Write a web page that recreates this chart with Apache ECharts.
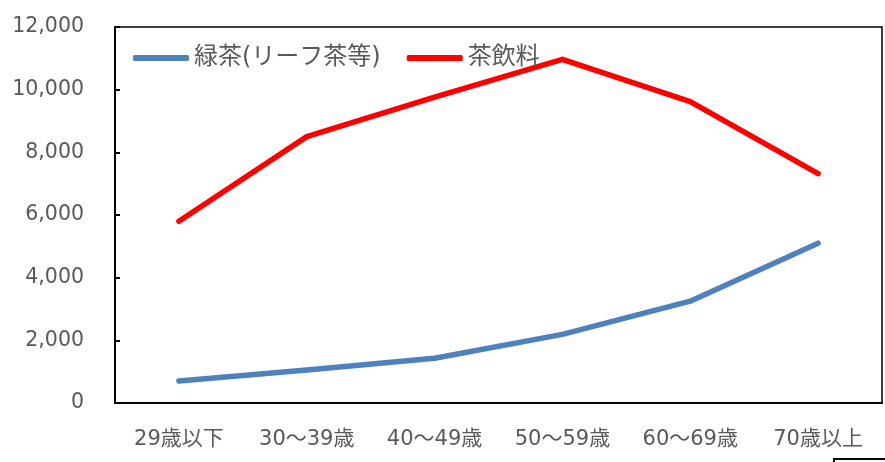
<!DOCTYPE html>
<html>
<head>
<meta charset="utf-8">
<script src="https://cdn.jsdelivr.net/npm/echarts@6/dist/echarts.min.js"></script>
<style>html,body{margin:0;padding:0;background:#fff;}#c{width:885px;height:462px;}</style>
</head>
<body>
<div id="c"></div>
<script>
const categories = ['29歳以下', '30～39歳', '40～49歳', '50～59歳', '60～69歳', '70歳以上'];
const greenTea = [700, 1050, 1430, 2190, 3250, 5100];
const teaDrink = [5800, 8500, 9760, 10970, 9620, 7320];
const seriesNames = ['緑茶(リーフ茶等)', '茶飲料'];

const font = '"DejaVu Sans", "Noto Sans CJK JP", sans-serif';
const chart = echarts.init(document.getElementById('c'));
chart.setOption({
  animation: false,
  backgroundColor: '#fff',
  grid: { left: 115, right: 3, top: 27, bottom: 59, show: true, borderColor: '#000', borderWidth: 1.5 },
  legend: {
    left: 128, top: 41, itemWidth: 56, itemHeight: 6, itemGap: 26,
    icon: 'roundRect',
    textStyle: { fontFamily: font, fontSize: 24, color: '#595959' },
    data: seriesNames
  },
  xAxis: {
    type: 'category', data: categories, boundaryGap: true,
    axisLine: { lineStyle: { color: '#000', width: 2 } },
    axisTick: { show: false },
    axisLabel: { fontFamily: font, fontSize: 21, color: '#595959', margin: 26 }
  },
  yAxis: {
    type: 'value', min: 0, max: 12000, interval: 2000,
    axisLine: { show: true, lineStyle: { color: '#000', width: 2 } },
    axisTick: { show: true, inside: true, length: 5, lineStyle: { color: '#000', width: 2 } },
    splitLine: { show: false },
    axisLabel: { fontFamily: font, fontSize: 20.5, color: '#595959', margin: 31,
      padding: [0, 0, 7, 0],
      formatter: v => v.toLocaleString('en-US') }
  },
  series: [
    { name: seriesNames[0], type: 'line', data: greenTea, symbol: 'none',
      itemStyle: { color: '#4f81bd' },
      lineStyle: { color: '#4f81bd', width: 5.5, cap: 'round', join: 'round' } },
    { name: seriesNames[1], type: 'line', data: teaDrink, symbol: 'none',
      itemStyle: { color: '#ff0000' },
      lineStyle: { color: '#ff0000', width: 5.5, cap: 'round', join: 'round' } }
  ],
  graphic: [
    { type: 'polyline', shape: { points: [[834, 462], [834, 459], [885, 459]] },
      style: { stroke: '#000', lineWidth: 2, fill: null } }
  ]
});
</script>
</body>
</html>
